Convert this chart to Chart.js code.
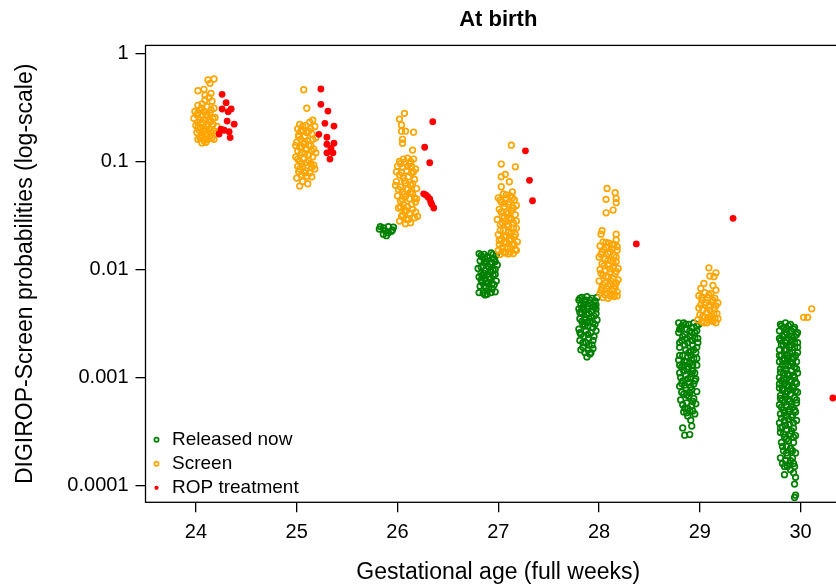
<!DOCTYPE html>
<html>
<head>
<meta charset="utf-8">
<script src="https://cdn.jsdelivr.net/npm/chart.js@4.4.1/dist/chart.umd.min.js"></script>
<style>
    html, body { margin: 0; padding: 0; overflow: hidden; background: #fff; }
    #wrap { width: 836px; height: 587px; overflow: hidden; }
</style>
</head>
<body>
<div id="wrap"><canvas id="myChart" width="880" height="587"></canvas></div>
<script>
const weeks = [24, 25, 26, 27, 28, 29, 30]
const yTicks = [0.0001, 0.001, 0.01, 0.1, 1]
const yTickLabels = ['0.0001', '0.001', '0.01', '0.1', '1']
const seriesNames = ['Released now', 'Screen', 'ROP treatment']

// [gestational age + jitter, probability]
const releasedNow = [
    [25.83,0.0249],[25.86,0.0242],[25.91,0.0248],[25.96,0.0246],[25.88,0.0228],[25.94,0.0225],[25.86,0.0212],[25.91,0.0218],[25.89,0.0205],[25.95,0.0232],[25.82,0.0236],
    [26.81,0.014],[26.86,0.0138],[26.93,0.0142],[26.98,0.0135],[26.84,0.013],[26.90,0.0128],[26.96,0.0125],[26.82,0.012],[26.88,0.0118],[26.94,0.0115],[26.99,0.011],[26.85,0.0108],[26.91,0.0105],[26.80,0.0102],[26.97,0.0100],[26.87,0.0097],[26.93,0.0095],[26.83,0.0092],[26.89,0.009],[26.95,0.0088],[26.81,0.0085],[26.86,0.0083],[26.92,0.0081],[26.98,0.0078],[26.84,0.0076],[26.90,0.0074],[26.96,0.0072],[26.82,0.007],[26.88,0.0068],[26.94,0.0066],[26.81,0.0061],[26.85,0.006],[26.89,0.0059],[26.93,0.0061],[26.97,0.0062],[26.87,0.0058],[26.92,0.0112],[26.87,0.0125],[26.95,0.0098],[26.84,0.0088],
    [26.83,0.0135],[26.95,0.0138],[26.89,0.0132],[26.86,0.0115],[26.97,0.0118],[26.83,0.0105],[26.92,0.0098],[26.86,0.0092],[26.97,0.009],[26.91,0.0085],[26.83,0.008],[26.88,0.0078],[26.94,0.0074],[26.86,0.007],[26.91,0.0069],
    [27.83,0.0055],[27.88,0.0056],[27.93,0.0054],[27.98,0.0055],[27.80,0.0052],[27.86,0.005],[27.91,0.0049],[27.96,0.0051],[27.82,0.0047],[27.89,0.0046],[27.94,0.0045],[27.80,0.0043],[27.85,0.0042],[27.92,0.0041],[27.97,0.0043],[27.83,0.0039],[27.88,0.0038],[27.95,0.0037],[27.81,0.0035],[27.86,0.0034],[27.91,0.0033],[27.98,0.0034],[27.84,0.0031],[27.89,0.003],[27.94,0.0029],[27.80,0.0028],[27.87,0.0027],[27.92,0.0026],[27.97,0.0027],[27.82,0.0025],[27.85,0.0024],[27.90,0.0023],[27.95,0.0024],[27.81,0.0022],[27.87,0.0021],[27.93,0.002],[27.84,0.0019],[27.89,0.0018],[27.94,0.00185],[27.86,0.0017],[27.91,0.00165],[27.88,0.00155],[27.96,0.0045],[27.87,0.0052],[27.83,0.0044],[27.92,0.0036],[27.88,0.0032],[27.96,0.0031],
    [27.81,0.0054],[27.91,0.0052],[27.85,0.0048],[27.97,0.0047],[27.84,0.0045],[27.89,0.0043],[27.81,0.004],[27.90,0.0039],[27.97,0.0039],[27.86,0.0036],[27.83,0.0033],[27.94,0.0032],[27.86,0.003],[27.81,0.0026],[27.89,0.0025],[27.94,0.0022],[27.84,0.0021],[27.90,0.002],[27.82,0.0018],[27.92,0.0017],
    [28.79,0.0032],[28.84,0.0032],[28.89,0.0031],[28.94,0.0032],[28.99,0.0031],[28.81,0.0029],[28.87,0.0028],[28.92,0.0029],[28.97,0.0027],[28.79,0.0026],[28.85,0.0025],[28.90,0.0024],[28.95,0.0023],[28.82,0.0022],[28.88,0.0021],[28.93,0.002],[28.98,0.0021],[28.80,0.0019],[28.86,0.0018],[28.91,0.00175],[28.96,0.0017],[28.83,0.0016],[28.88,0.00155],[28.94,0.0015],[28.79,0.00145],[28.85,0.0014],[28.90,0.00135],[28.97,0.0013],[28.82,0.00125],[28.87,0.0012],[28.93,0.00115],[28.80,0.0011],[28.86,0.00105],[28.91,0.001],[28.96,0.00097],[28.83,0.00093],[28.89,0.0009],[28.94,0.00087],[28.80,0.00083],[28.86,0.0008],[28.92,0.00077],[28.97,0.00074],[28.84,0.0007],[28.89,0.00067],[28.94,0.00064],[28.81,0.00062],[28.87,0.00058],[28.92,0.00055],[28.85,0.00052],[28.90,0.00049],[28.95,0.00046],[28.88,0.00044],[28.91,0.000402],[28.83,0.000341],[28.92,0.000355],[28.85,0.000292],[28.90,0.000296],
    [28.82,0.003],[28.92,0.0026],[28.87,0.0023],[28.97,0.0019],[28.84,0.0013],[28.95,0.0011],[28.82,0.00088],[28.90,0.00072],[28.96,0.00057],[28.84,0.00048],
    [28.86,0.0031],[28.97,0.003],[28.80,0.0028],[28.90,0.0027],[28.95,0.0026],[28.83,0.0024],[28.92,0.0022],[28.98,0.0023],[28.80,0.0021],[28.85,0.002],[28.94,0.0018],[28.89,0.0017],[28.80,0.0016],[28.91,0.0016],[28.97,0.0015],[28.87,0.0014],[28.93,0.0013],[28.80,0.0013],[28.89,0.00125],[28.84,0.00115],[28.92,0.00108],[28.81,0.001],[28.88,0.00097],[28.95,0.00093],[28.85,0.00085],[28.91,0.00082],[28.82,0.00073],[28.87,0.00069],[28.93,0.0006],[28.88,0.00052],[28.83,0.00056],[28.93,0.00049],[28.87,0.00047],
    [29.80,0.0031],[29.85,0.0032],[29.90,0.0031],[29.83,0.0029],[29.88,0.003],[29.93,0.0028],[29.79,0.0027],[29.86,0.0026],[29.91,0.0027],[29.96,0.0025],[29.82,0.0024],[29.88,0.0023],[29.94,0.0024],[29.80,0.0022],[29.85,0.0021],[29.91,0.0022],[29.97,0.0021],[29.83,0.002],[29.89,0.0019],[29.94,0.0019],[29.79,0.0018],[29.86,0.0018],[29.92,0.0017],[29.97,0.0017],[29.81,0.0016],[29.87,0.0016],[29.93,0.0015],[29.84,0.0015],[29.79,0.0014],[29.90,0.0014],[29.96,0.0014],[29.82,0.0013],[29.88,0.0013],[29.94,0.00125],[29.80,0.0012],[29.85,0.0012],[29.91,0.00115],[29.97,0.0011],[29.83,0.0011],[29.89,0.00105],[29.79,0.001],[29.94,0.001],[29.86,0.00097],[29.81,0.00093],[29.91,0.00092],[29.96,0.00088],[29.84,0.00087],[29.88,0.00083],[29.79,0.0008],[29.93,0.0008],[29.82,0.00076],[29.87,0.00074],[29.97,0.00073],[29.90,0.0007],[29.80,0.00068],[29.85,0.00066],[29.94,0.00065],[29.82,0.00062],[29.89,0.0006],[29.96,0.00058],[29.79,0.00056],[29.86,0.00055],[29.92,0.00053],[29.83,0.0005],[29.88,0.00048],[29.95,0.00048],[29.80,0.00046],[29.86,0.00044],[29.91,0.00043],[29.84,0.0004],[29.96,0.0004],[29.79,0.00038],[29.89,0.00037],[29.82,0.00035],[29.93,0.00034],[29.86,0.00033],[29.80,0.00031],[29.90,0.0003],[29.95,0.00029],[29.84,0.00028],[29.88,0.00026],[29.81,0.00025],[29.93,0.00025],[29.86,0.00023],[29.90,0.00022],[29.83,0.00021],[29.95,0.0002],[29.87,0.00019],[29.80,0.00018],[29.92,0.00018],[29.85,0.00017],[29.89,0.00016],[29.94,0.00015],[29.84,0.00015],[29.90,0.00014],
    [29.81,0.0030],[29.94,0.0029],[29.86,0.0028],[29.97,0.0026],[29.84,0.0025],[29.91,0.0024],[29.79,0.0023],[29.86,0.0022],[29.94,0.0021],[29.81,0.002],[29.91,0.002],[29.97,0.0019],[29.84,0.0018],[29.89,0.0017],[29.79,0.0016],[29.95,0.0016],[29.87,0.0015],[29.82,0.00145],[29.92,0.00135],[29.85,0.00128],[29.96,0.0012],[29.80,0.00112],[29.87,0.00108],[29.93,0.00105],[29.83,0.00098],[29.89,0.00094],[29.95,0.00091],[29.79,0.00087],[29.86,0.00084],[29.92,0.00082],[29.82,0.00079],[29.90,0.00077],[29.95,0.00075],[29.85,0.00071],[29.80,0.00064],[29.88,0.00063],[29.96,0.00062],[29.84,0.00059],[29.91,0.00057],[29.81,0.00053],[29.89,0.00051],[29.94,0.0005],[29.84,0.00047],[29.92,0.00045],[29.81,0.00042],[29.88,0.00041],[29.93,0.00038],[29.85,0.00036],[29.80,0.00034],[29.91,0.00032],[29.83,0.0003],[29.93,0.00028],[29.86,0.00027],[29.82,0.00023],[29.92,0.00021],[29.86,0.0002],[29.90,0.00017],[29.82,0.00016],[29.87,0.00015],[29.93,0.00016],
    [29.84,0.000126],[29.93,0.000131],[29.95,0.000119],[29.94,0.000103],[29.95,0.0000813],[29.94,0.0000775]
]

const screen = [
    [24.18,0.578],[24.12,0.566],[24.14,0.527],[24.08,0.464],[24.02,0.45],[24.15,0.426],[24.09,0.41],[24.13,0.39],[24.09,0.37],[24.16,0.36],[24.06,0.34],
    [24.02,0.33],[24.11,0.32],[24.18,0.31],[24.04,0.30],[23.99,0.29],[24.08,0.29],[24.14,0.28],[24.01,0.27],[24.06,0.265],[24.12,0.26],[24.19,0.255],[23.98,0.25],[24.04,0.245],[24.09,0.24],[24.15,0.235],[24.02,0.23],[24.07,0.225],[24.17,0.22],[24.00,0.215],[24.11,0.21],[24.05,0.205],[24.13,0.20],[24.03,0.195],[24.08,0.19],[24.18,0.19],[24.01,0.185],[24.10,0.18],[24.06,0.175],[24.14,0.17],[24.04,0.165],[24.12,0.16],[24.08,0.155],[24.02,0.16],[24.16,0.165],[24.10,0.15],[24.20,0.18],[24.21,0.21],[24.13,0.24],[24.06,0.148],
    [24.06,0.31],[24.15,0.30],[24.02,0.28],[24.10,0.27],[24.17,0.25],[24.06,0.23],[24.12,0.22],[24.02,0.205],[24.09,0.2],[24.15,0.185],[24.05,0.17],[24.12,0.175],[24.18,0.16],
    [25.07,0.46],[25.10,0.31],[25.16,0.24],[25.13,0.23],[25.03,0.22],[25.09,0.215],[25.18,0.21],[25.01,0.20],[25.06,0.195],[25.12,0.19],[25.15,0.18],[25.02,0.175],[25.08,0.17],[25.19,0.165],[25.04,0.16],[25.11,0.155],[25.00,0.15],[25.07,0.145],[25.14,0.14],[25.03,0.135],[25.17,0.13],[25.09,0.13],[25.01,0.125],[25.05,0.12],[25.12,0.115],[25.16,0.11],[24.99,0.11],[25.07,0.105],[25.03,0.10],[25.10,0.098],[25.14,0.095],[25.01,0.09],[25.06,0.088],[25.18,0.085],[25.09,0.082],[25.02,0.08],[25.13,0.078],[25.05,0.075],[25.15,0.072],[25.00,0.070],[25.10,0.073],[25.06,0.065],[25.03,0.059],[25.11,0.062],[25.17,0.092],[25.19,0.12],[25.04,0.19],[24.99,0.14],
    [25.06,0.21],[25.14,0.2],[25.10,0.185],[25.02,0.168],[25.16,0.16],[25.08,0.152],[25.12,0.142],[25.05,0.135],[25.15,0.125],[25.08,0.118],[25.01,0.105],[25.12,0.102],[25.05,0.095],[25.15,0.088],[25.08,0.078],[25.03,0.085],
    [26.07,0.278],[26.02,0.246],[26.04,0.217],[26.04,0.19],[26.08,0.19],[26.16,0.186],[26.05,0.16],[26.05,0.147],[26.15,0.127],
    [26.10,0.107],[26.02,0.10],[26.16,0.105],[26.07,0.098],[26.12,0.095],[26.00,0.09],[26.05,0.088],[26.18,0.085],[26.09,0.082],[26.14,0.078],[26.02,0.075],[26.11,0.072],[26.06,0.07],[26.17,0.068],[25.99,0.065],[26.08,0.063],[26.13,0.06],[26.03,0.058],[26.19,0.056],[26.10,0.055],[26.05,0.052],[26.15,0.05],[26.00,0.048],[26.08,0.047],[26.12,0.045],[26.03,0.043],[26.18,0.042],[26.06,0.04],[26.10,0.038],[26.01,0.037],[26.15,0.036],[26.07,0.034],[26.12,0.033],[26.04,0.031],[26.17,0.03],[26.09,0.029],[26.02,0.028],[26.13,0.027],[26.08,0.0265],[26.20,0.031],[26.19,0.045],[25.98,0.06],[25.99,0.08],[26.14,0.09],
    [26.06,0.105],[26.13,0.1],[26.03,0.095],[26.10,0.09],[26.16,0.08],[26.04,0.079],[26.07,0.066],[26.15,0.062],[26.01,0.055],[26.13,0.052],[26.07,0.05],[26.17,0.046],[26.05,0.044],[26.14,0.04],[26.03,0.038],[26.09,0.035],[26.18,0.034],[26.05,0.032],[26.11,0.029],
    [27.13,0.141],[27.03,0.0944],[27.17,0.089],[27.07,0.0758],[27.03,0.072],[27.11,0.0647],[27.03,0.0582],[27.14,0.052],
    [27.05,0.05],[27.12,0.048],[27.00,0.046],[27.08,0.045],[27.16,0.044],[27.03,0.042],[27.10,0.04],[27.18,0.039],[27.06,0.038],[27.01,0.036],[27.13,0.035],[27.08,0.034],[27.17,0.032],[27.04,0.031],[27.11,0.03],[26.99,0.029],[27.07,0.028],[27.15,0.027],[27.02,0.026],[27.10,0.025],[27.18,0.024],[27.05,0.023],[27.13,0.022],[27.00,0.021],[27.08,0.0205],[27.16,0.02],[27.03,0.019],[27.11,0.0185],[27.06,0.018],[27.19,0.018],[27.01,0.017],[27.14,0.0168],[27.09,0.016],[27.04,0.0155],[27.17,0.0152],[27.00,0.015],[27.12,0.0145],[27.07,0.0142],[27.15,0.014],[27.02,0.0138],
    [27.08,0.049],[27.14,0.046],[27.02,0.044],[27.11,0.042],[27.06,0.041],[27.15,0.037],[27.03,0.034],[27.10,0.033],[27.06,0.03],[27.13,0.029],[27.18,0.028],[27.04,0.027],[27.09,0.026],[27.15,0.024],[27.02,0.023],[27.10,0.022],[27.17,0.021],[27.06,0.02],[27.13,0.019],[27.01,0.0185],[27.08,0.0175],[27.16,0.017],[27.04,0.016],[27.12,0.0158],[27.18,0.015],[27.05,0.0146],[27.10,0.0139],
    [28.08,0.0562],[28.16,0.0512],[28.07,0.0445],[28.17,0.0455],[28.17,0.0414],[28.14,0.0354],[28.07,0.0334],[28.03,0.0228],[28.02,0.0212],[28.17,0.0212],[28.17,0.0187],
    [28.04,0.018],[28.10,0.0175],[28.15,0.017],[28.01,0.0165],[28.07,0.016],[28.13,0.0155],[28.18,0.015],[28.03,0.0145],[28.09,0.014],[28.15,0.0135],[28.00,0.013],[28.06,0.0125],[28.12,0.012],[28.17,0.0118],[28.03,0.0113],[28.09,0.011],[28.14,0.0105],[28.19,0.0102],[28.01,0.01],[28.06,0.0097],[28.11,0.0094],[28.16,0.0091],[28.04,0.0088],[28.09,0.0085],[28.14,0.0082],[28.19,0.008],[28.00,0.0078],[28.06,0.0075],[28.11,0.0073],[28.16,0.007],[28.03,0.0068],[28.08,0.0066],[28.13,0.0064],[28.18,0.0062],[28.01,0.006],[28.06,0.0058],[28.11,0.0057],[28.15,0.0056],[28.04,0.0055],[28.09,0.0054],
    [28.07,0.0178],[28.13,0.0168],[28.18,0.0162],[28.05,0.0152],[28.11,0.0145],[28.02,0.0138],[28.17,0.013],[28.09,0.0122],[28.14,0.0115],[28.05,0.0108],[28.11,0.0101],[28.17,0.0096],[28.02,0.0092],[28.07,0.0086],[28.12,0.0078],[28.17,0.0075],[28.04,0.0072],[28.09,0.007],[28.15,0.0066],[28.02,0.0064],[28.08,0.006],[28.13,0.0058],[28.18,0.0057],
    [29.09,0.01035],[29.16,0.0093],[29.10,0.00867],[29.14,0.00856],[29.04,0.00742],[29.13,0.0071],[29.01,0.00667],[29.16,0.00643],
    [29.05,0.0061],[29.11,0.006],[28.99,0.0057],[29.08,0.0055],[29.15,0.0054],[29.02,0.0052],[29.12,0.005],[29.18,0.0049],[29.05,0.0047],[29.09,0.0046],[28.99,0.0044],[29.14,0.0043],[29.03,0.0042],[29.07,0.004],[29.17,0.0039],[29.00,0.0038],[29.11,0.0037],[29.05,0.0036],[29.15,0.0035],[28.98,0.0034],[29.09,0.0034],[29.02,0.0033],[29.13,0.0033],[29.18,0.0035],[29.07,0.0032],[29.16,0.0032],
    [29.09,0.0058],[29.02,0.0055],[29.13,0.0052],[29.06,0.0049],[29.16,0.0046],[29.01,0.0047],[29.10,0.0042],[29.14,0.0039],[29.03,0.0037],[29.08,0.0036],[29.12,0.0034],[29.04,0.0032],
    [30.11,0.00432],[30.03,0.0036],[30.07,0.0036]
]

const ropTreatment = [
    [24.26,0.417],[24.30,0.349],[24.26,0.305],[24.35,0.305],[24.32,0.288],[24.31,0.236],[24.38,0.221],[24.25,0.199],[24.28,0.194],[24.33,0.188],[24.23,0.179],[24.34,0.166],
    [25.24,0.467],[25.24,0.337],[25.31,0.292],[25.28,0.225],[25.37,0.212],[25.22,0.178],[25.30,0.167],[25.37,0.147],[25.30,0.144],[25.34,0.132],[25.30,0.120],[25.36,0.120],[25.33,0.105],
    [26.35,0.233],[26.27,0.135],[26.32,0.097],[26.26,0.05],[26.28,0.049],[26.30,0.047],[26.32,0.045],[26.33,0.042],[26.34,0.040],[26.36,0.037],
    [27.27,0.125],[27.31,0.0667],[27.34,0.0432],
    [28.37,0.0172],
    [29.33,0.0297],
    [30.32,0.000645]
]

const fontFamily = '"Liberation Sans", Arial, Helvetica, sans-serif'

const toPoints = (list) => list.map(([x, y]) => ({x, y}))

// R-style box around the plot region, legend pinned to the bottom-left of it
const plotFrame = {
    id: 'plotFrame',
    afterLayout: (chart) => {
        const legend = chart.legend
        if (legend) {
            legend.top = chart.chartArea.top
            legend.bottom = chart.chartArea.bottom
        }
    },
    afterDraw: (chart) => {
        const {ctx, chartArea} = chart
        ctx.save()
        ctx.strokeStyle = '#000'
        ctx.lineWidth = 1.3
        ctx.strokeRect(chartArea.left, chartArea.top, chartArea.right - chartArea.left, chartArea.bottom - chartArea.top)
        ctx.restore()
    }
}

const ctx = document.getElementById('myChart').getContext('2d')

const myChart = new Chart(ctx, {
    type: 'scatter',
    data: {
        datasets: [{
            label: seriesNames[0],
            data: toPoints(releasedNow),
            borderColor: '#008000',
            backgroundColor: 'rgba(0,0,0,0)',
            borderWidth: 1.7,
            pointRadius: 2.8,
            pointStyle: 'circle',
            order: 2
        }, {
            label: seriesNames[1],
            data: toPoints(screen),
            borderColor: '#FFA500',
            backgroundColor: 'rgba(0,0,0,0)',
            borderWidth: 1.7,
            pointRadius: 2.8,
            pointStyle: 'circle',
            order: 1
        }, {
            label: seriesNames[2],
            data: toPoints(ropTreatment),
            borderColor: '#FF0000',
            backgroundColor: '#FF0000',
            borderWidth: 0,
            pointRadius: 3.4,
            pointStyle: 'circle',
            order: 0
        }]
    },
    options: {
        responsive: false,
        animation: false,
        devicePixelRatio: 1,
        layout: {
            padding: {left: 0, right: 29, top: 0, bottom: 0}
        },
        scales: {
            x: {
                type: 'linear',
                min: 23.5,
                max: 30.5,
                afterBuildTicks: (scale) => {
                    scale.ticks = weeks.map(v => ({value: v}))
                },
                afterFit: (scale) => {
                    scale.height = 84.7
                },
                grid: {display: true, drawOnChartArea: false, drawTicks: true, tickLength: 10, color: '#000', lineWidth: 1.3},
                border: {display: false},
                ticks: {
                    color: '#000',
                    font: {family: fontFamily, size: 20},
                    padding: 8,
                    autoSkip: false,
                    maxRotation: 0,
                    callback: (value) => String(value)
                },
                title: {
                    display: true,
                    text: 'Gestational age (full weeks)',
                    color: '#000',
                    font: {family: fontFamily, size: 23},
                    padding: {top: 0, bottom: 1}
                }
            },
            y: {
                type: 'logarithmic',
                min: 6.99e-5,
                max: 1.183,
                afterBuildTicks: (scale) => {
                    scale.ticks = yTicks.map(v => ({value: v}))
                },
                afterFit: (scale) => {
                    scale.width = 145.5
                },
                grid: {display: true, drawOnChartArea: false, drawTicks: true, tickLength: 10, color: '#000', lineWidth: 1.3},
                border: {display: false},
                ticks: {
                    color: '#000',
                    font: {family: fontFamily, size: 20},
                    padding: 7,
                    autoSkip: false,
                    callback: (value, index) => yTickLabels[index]
                },
                title: {
                    display: true,
                    text: 'DIGIROP-Screen probabilities (log-scale)',
                    color: '#000',
                    font: {family: fontFamily, size: 23},
                    padding: {top: 12, bottom: 0}
                }
            }
        },
        plugins: {
            title: {
                display: true,
                text: 'At birth',
                color: '#000',
                fullSize: false,
                font: {family: fontFamily, size: 22, weight: 'bold'},
                padding: {top: 7, bottom: 12}
            },
            legend: {
                position: 'chartArea',
                align: 'end',
                labels: {
                    usePointStyle: true,
                    boxWidth: 12,
                    boxHeight: 3,
                    padding: 5,
                    color: '#000',
                    font: {family: fontFamily, size: 19},
                    sort: (a, b) => a.datasetIndex - b.datasetIndex
                }
            },
            tooltip: {enabled: false}
        }
    },
    plugins: [plotFrame]
})
</script>
</body>
</html>
